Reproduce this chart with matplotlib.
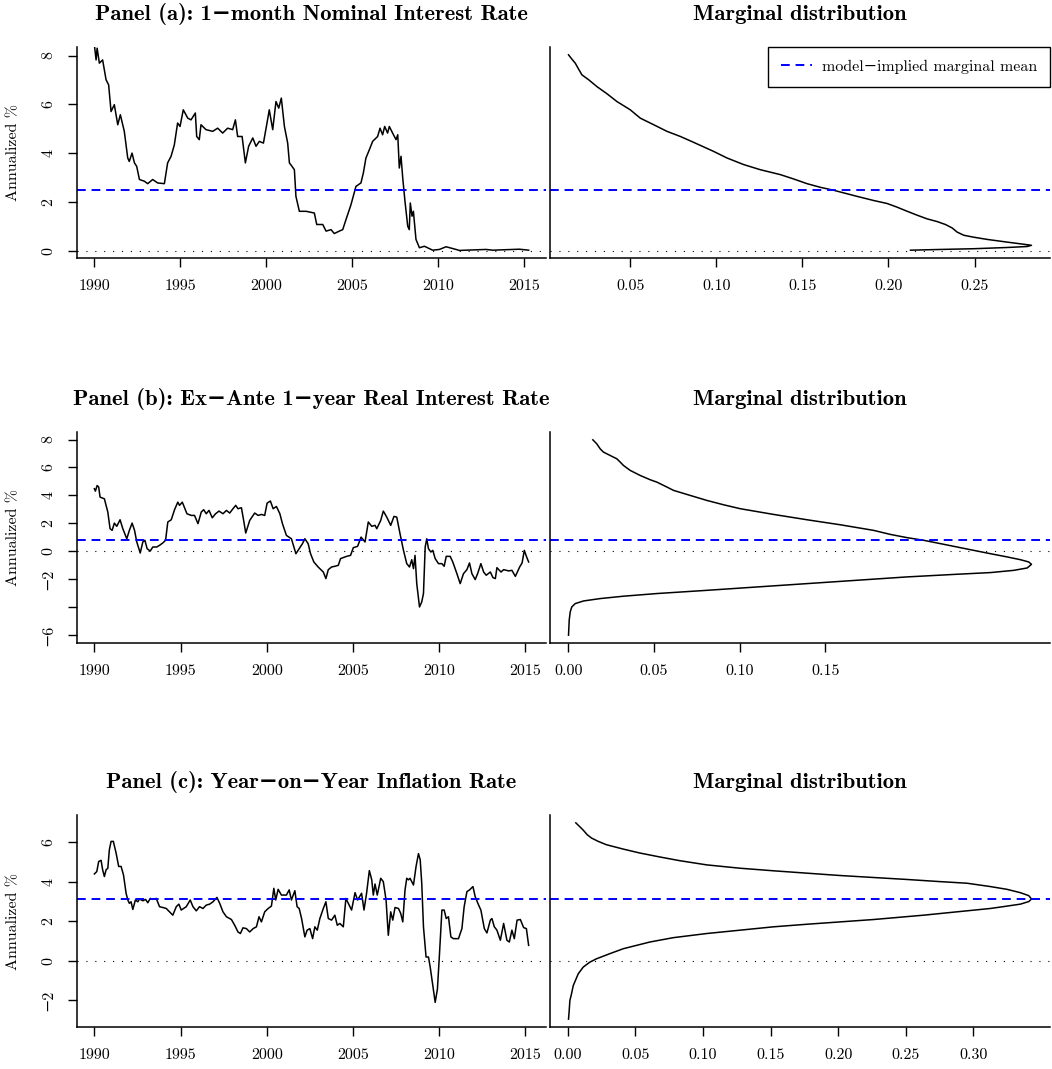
import numpy as np
import matplotlib
matplotlib.use("Agg")
import matplotlib.pyplot as plt

plt.rcParams['font.family'] = ['cmr10', 'DejaVu Serif']
plt.rcParams['mathtext.fontset'] = 'cm'
plt.rcParams['axes.formatter.use_mathtext'] = True

# ---------------- data ----------------
# Panel (a): 1-month nominal interest rate, time as years after 1990
a_t = [0.00,0.10,0.16,0.29,0.48,0.68,0.83,0.97,1.16,1.36,1.51,1.74,1.94,2.03,2.19,2.33,2.46,2.62,2.91,3.10,
       3.39,3.68,4.07,4.26,4.46,4.65,4.84,4.98,5.17,5.43,5.62,5.87,5.95,6.10,6.20,6.49,6.88,7.17,7.46,7.75,
       8.04,8.20,8.33,8.59,8.78,8.97,9.21,9.40,9.59,9.83,10.02,10.17,10.37,10.56,10.72,10.87,11.05,11.24,11.34,11.49,
       11.63,11.72,11.92,12.31,12.79,12.93,13.28,13.47,13.76,13.95,14.24,14.44,14.63,14.92,15.21,15.50,15.64,15.79,15.99,16.18,
       16.47,16.61,16.76,16.88,17.05,17.15,17.34,17.54,17.64,17.73,17.83,17.93,18.06,18.22,18.31,18.37,18.47,18.55,18.70,18.90,
       19.19,19.67,20.06,20.45,21.03,21.22,22.77,23.16,24.71,25.25]
a_v = [8.44,7.82,8.30,7.69,7.82,7.01,6.80,5.71,5.99,5.17,5.58,4.90,3.81,3.67,4.01,3.61,3.47,2.93,2.86,2.76,
       2.93,2.79,2.76,3.61,3.88,4.35,5.24,5.10,5.78,5.44,5.37,5.65,4.69,4.56,5.17,4.97,4.90,5.03,4.83,5.03,
       4.97,5.37,4.69,4.69,3.61,4.29,4.63,4.29,4.49,4.42,5.17,5.78,4.97,6.12,5.85,6.26,5.10,4.42,3.61,3.47,
       3.33,2.24,1.63,1.63,1.56,1.09,1.09,0.82,0.88,0.72,0.82,0.88,1.29,1.90,2.65,2.79,3.20,3.81,4.15,4.49,
       4.69,5.03,4.76,5.10,4.83,5.10,4.83,4.56,4.76,3.40,3.88,2.99,2.04,1.02,0.88,1.97,1.43,1.63,0.48,0.14,
       0.20,0.04,0.07,0.18,0.07,0.03,0.07,0.04,0.08,0.04]
a_mean = 2.52
a_dens_y = [8.03,7.85,7.69,7.44,7.21,7.01,6.73,6.44,6.12,5.95,5.78,5.44,5.17,4.90,4.69,4.45,4.08,3.81,3.54,3.33,
            3.13,2.95,2.76,2.61,2.49,2.24,2.07,1.95,1.80,1.63,1.47,1.32,1.21,1.09,0.95,0.78,0.65,0.57,0.48,0.37,
            0.30,0.24,0.19,0.15,0.10,0.07,0.04]
a_dens_x = [0.0141,0.0161,0.0180,0.0200,0.0219,0.0258,0.0306,0.0364,0.0422,0.0461,0.0500,0.0558,0.0636,0.0713,0.0791,
            0.0868,0.0984,0.1062,0.1159,0.1256,0.1372,0.1450,0.1527,0.1605,0.1682,0.1818,0.1915,0.1992,0.2050,0.2109,
            0.2167,0.2225,0.2283,0.2331,0.2370,0.2399,0.2438,0.2496,0.2574,0.2690,0.2767,0.2831,0.2806,0.2690,0.2496,
            0.2302,0.2128]

# Panel (b): ex-ante 1-year real interest rate
b_t = [0.00,0.06,0.16,0.25,0.33,0.58,0.78,0.91,1.03,1.16,1.30,1.49,1.65,1.88,2.03,2.19,2.33,2.46,2.66,2.81,
       2.93,3.06,3.24,3.39,3.62,3.78,3.97,4.13,4.26,4.46,4.65,4.84,4.94,5.10,5.23,5.37,5.62,5.81,6.01,6.20,
       6.34,6.49,6.65,6.84,7.03,7.23,7.46,7.66,7.85,8.04,8.20,8.33,8.53,8.66,8.78,9.01,9.30,9.50,9.69,9.88,
       10.02,10.21,10.37,10.56,10.76,10.91,11.14,11.43,11.69,11.88,12.07,12.21,12.40,12.54,12.73,12.98,13.28,13.43,13.57,13.76,
       13.95,14.15,14.28,14.63,14.86,15.02,15.27,15.47,15.70,15.89,16.09,16.28,16.38,16.61,16.76,16.96,17.19,17.38,17.54,17.73,
       17.93,18.12,18.28,18.41,18.51,18.60,18.70,18.86,18.99,19.09,19.19,19.28,19.38,19.52,19.63,19.77,19.96,20.16,20.29,20.41,
       20.64,20.79,21.03,21.22,21.41,21.61,21.76,21.90,22.09,22.23,22.42,22.58,22.73,22.97,23.12,23.26,23.35,23.59,23.74,24.03,
       24.22,24.42,24.67,24.81,24.94,25.06,25.19]
b_v = [4.48,4.31,4.71,4.60,3.88,3.76,2.81,1.62,1.50,2.02,1.79,2.26,1.62,0.90,1.50,2.02,1.50,0.67,-0.12,0.67,
       0.79,0.19,0.02,0.31,0.31,0.43,0.60,0.79,2.10,2.26,2.98,3.52,3.29,3.52,3.12,2.69,2.57,2.57,1.98,2.81,
       2.98,2.69,2.93,2.40,2.69,2.88,2.69,2.93,2.74,3.05,3.29,3.05,3.12,2.21,1.31,2.21,2.74,2.57,2.64,2.57,
       3.45,3.60,3.05,3.21,2.69,1.98,1.14,0.90,-0.17,0.19,0.55,0.90,0.55,-0.17,-0.76,-1.12,-1.48,-1.95,-1.31,-1.12,
       -1.07,-1.00,-0.52,-0.36,-0.29,0.26,0.36,1.02,0.67,2.10,1.79,1.86,1.62,2.21,2.88,2.45,1.86,2.50,2.45,1.26,
       0.07,-0.88,-1.12,-0.60,-1.24,-0.29,-2.31,-3.98,-3.62,-3.02,0.31,0.90,0.19,-0.05,0.07,-0.52,-0.88,-0.88,-1.07,-0.36,
       -0.36,-0.76,-1.60,-2.31,-1.60,-1.31,-0.83,-1.60,-2.02,-1.60,-0.88,-1.48,-1.71,-1.48,-1.88,-1.95,-1.17,-1.48,-1.31,-1.40,
       -1.36,-1.79,-1.12,-0.83,0.07,-0.36,-0.76]
b_mean = 0.84
b_dens_y = [7.98,7.69,7.33,7.10,6.86,6.62,6.38,6.14,5.79,5.43,5.12,4.95,4.60,4.36,4.00,3.64,3.33,3.05,2.64,2.26,
            1.90,1.50,1.21,0.98,0.79,0.55,0.31,0.07,-0.17,-0.40,-0.60,-0.76,-0.93,-1.19,-1.36,-1.52,-1.64,-1.83,-2.07,-2.31,
            -2.55,-2.79,-3.02,-3.21,-3.38,-3.55,-3.74,-3.98,-4.33,-4.93,-6.00]
b_dens_x = [0.0144,0.0167,0.0187,0.0206,0.0245,0.0284,0.0304,0.0323,0.0362,0.0420,0.0479,0.0518,0.0576,0.0615,0.0712,
            0.0810,0.0907,0.1004,0.1199,0.1393,0.1588,0.1782,0.1880,0.1977,0.2074,0.2172,0.2269,0.2366,0.2464,0.2561,
            0.2639,0.2687,0.2703,0.2678,0.2600,0.2464,0.2269,0.1977,0.1685,0.1393,0.1101,0.0810,0.0518,0.0323,0.0187,
            0.0090,0.0041,0.0021,0.0012,0.0006,0.0002]

# Panel (c): year-on-year inflation rate
c_t = [0.00,0.14,0.25,0.39,0.48,0.58,0.68,0.78,0.87,0.97,1.10,1.26,1.41,1.55,1.69,1.84,1.94,2.03,2.13,2.23,
       2.38,2.52,2.62,2.81,2.97,3.10,3.24,3.39,3.59,3.78,3.97,4.17,4.36,4.55,4.75,4.90,5.04,5.33,5.56,5.72,
       5.91,6.10,6.30,6.49,6.69,6.88,7.11,7.27,7.46,7.66,7.95,8.14,8.33,8.47,8.62,8.82,9.01,9.21,9.40,9.55,
       9.69,9.88,10.08,10.27,10.41,10.52,10.66,10.85,11.14,11.30,11.43,11.63,11.76,11.88,12.02,12.21,12.34,12.50,12.66,12.79,
       12.93,13.08,13.28,13.43,13.57,13.76,13.95,14.09,14.24,14.44,14.59,14.73,14.92,15.12,15.27,15.50,15.64,15.79,15.95,16.09,
       16.18,16.28,16.41,16.61,16.76,16.92,17.05,17.19,17.31,17.44,17.64,17.77,17.89,18.02,18.12,18.22,18.31,18.51,18.66,18.80,
       18.90,18.99,19.09,19.24,19.38,19.48,19.63,19.77,19.90,20.02,20.16,20.29,20.41,20.54,20.68,20.83,21.12,21.32,21.45,21.61,
       21.76,21.96,22.09,22.29,22.42,22.62,22.77,22.97,23.06,23.20,23.35,23.55,23.74,23.93,24.07,24.22,24.36,24.52,24.71,24.90,
       25.06,25.19]
c_v = [4.40,4.52,5.03,5.09,4.61,4.27,4.61,4.69,5.63,6.05,6.05,5.46,4.78,4.78,4.35,3.42,3.08,2.91,2.99,2.60,
       3.08,2.99,3.13,3.04,3.11,2.94,3.16,3.11,3.16,2.74,2.70,2.65,2.48,2.31,2.74,2.87,2.57,2.74,3.08,2.74,
       2.53,2.74,2.65,2.82,2.87,2.99,3.21,2.91,2.48,2.23,2.09,1.80,1.46,1.38,1.67,1.63,1.46,1.63,1.72,2.23,
       1.97,2.48,2.65,2.77,3.67,3.08,3.62,3.33,3.33,3.59,3.08,3.55,2.74,2.65,2.14,1.21,1.55,1.63,1.12,1.72,
       1.55,2.14,2.65,2.99,2.14,2.06,2.31,1.80,1.89,1.72,3.16,2.91,2.57,3.45,3.08,3.42,2.57,3.42,4.57,4.10,
       3.33,3.89,3.33,4.18,4.01,3.08,1.29,2.48,2.06,2.70,2.65,2.40,1.97,3.59,4.18,4.10,4.18,3.84,4.78,5.43,
       5.12,3.93,1.72,0.19,0.19,-0.32,-1.26,-2.11,-1.43,0.36,2.57,2.57,2.14,2.23,1.21,1.12,1.12,1.63,2.74,3.50,
       3.59,3.76,3.25,2.82,2.57,1.63,1.41,2.06,2.14,1.72,1.55,1.04,1.89,1.04,0.95,1.55,1.12,2.06,2.09,1.68,
       1.63,0.78]
c_mean = 3.13
c_dens_y = [6.99,6.79,6.62,6.39,6.22,6.05,5.88,5.66,5.46,5.26,5.07,4.86,4.69,4.56,4.44,4.32,4.22,4.12,4.01,3.93,
            3.76,3.62,3.45,3.30,3.13,3.00,2.87,2.77,2.65,2.48,2.31,2.09,1.97,1.85,1.72,1.55,1.38,1.17,0.95,0.61,
            0.36,0.10,-0.07,-0.32,-0.66,-1.26,-1.68,-2.02,-2.53,-2.96]
c_dens_x = [0.0059,0.0089,0.0114,0.0143,0.0175,0.0225,0.0286,0.0410,0.0533,0.0681,0.0830,0.1027,0.1274,0.1521,0.1768,
            0.2015,0.2262,0.2509,0.2756,0.2953,0.3126,0.3249,0.3348,0.3410,0.3430,0.3410,0.3348,0.3249,0.3126,0.2879,
            0.2632,0.2262,0.2015,0.1768,0.1521,0.1274,0.1027,0.0780,0.0607,0.0410,0.0311,0.0212,0.0163,0.0114,0.0077,
            0.0040,0.0027,0.0015,0.0010,0.0005]

titles_left = ['Panel (a): 1\u2212month Nominal Interest Rate',
               'Panel (b): Ex\u2212Ante 1\u2212year Real Interest Rate',
               'Panel (c): Year\u2212on\u2212Year Inflation Rate']
title_right = 'Marginal distribution'
year_ticks = [1990, 1995, 2000, 2005, 2010, 2015]
yticks = [[0, 2, 4, 6, 8], [-6, -4, -2, 0, 2, 4, 6, 8], [-2, 0, 2, 4, 6]]
ytick_labels = [['0', '2', '4', '6', '8'],
                ['\u22126', '', '\u22122', '0', '2', '4', '6', '8'],
                ['\u22122', '0', '2', '4', '6']]
dens_ticks = [[0.05, 0.10, 0.15, 0.20, 0.25],
              [0.00, 0.05, 0.10, 0.15],
              [0.00, 0.05, 0.10, 0.15, 0.20, 0.25, 0.30]]
legend_label = 'model\u2212implied marginal mean'

# ---------------- figure ----------------
W, H = 1052, 1069
fig = plt.figure(figsize=(W / 100, H / 100), dpi=100)

rows_px = [(47, 258), (432, 643), (815, 1027)]
left_px = (77, 546)
right_px = (550, 1050)

series = [(a_t, a_v, a_mean, a_dens_x, a_dens_y),
          (b_t, b_v, b_mean, b_dens_x, b_dens_y),
          (c_t, c_v, c_mean, c_dens_x, c_dens_y)]

FS = 11.5
TFS = 16.3
dash_blue = (0, (4.5, 3.0))
dot_black = (0, (1, 7))
TFAM = ['cmb10', 'DejaVu Serif']


def style_axes(ax):
    for s in ['top', 'right']:
        ax.spines[s].set_visible(False)
    for s in ['left', 'bottom']:
        ax.spines[s].set_linewidth(1.1)
    ax.tick_params(direction='out', length=6.5, width=1.0, labelsize=FS, pad=9)


for i, (t, v, mean, dx, dy) in enumerate(series):
    top, bot = rows_px[i]
    yb = 1 - bot / H
    hh = (bot - top) / H
    axl = fig.add_axes([left_px[0] / W, yb, (left_px[1] - left_px[0]) / W, hh])
    axr = fig.add_axes([right_px[0] / W, yb, (right_px[1] - right_px[0]) / W, hh])

    tt = 1990 + np.asarray(t)
    vv = np.asarray(v)
    dxx = np.asarray(dx)
    dyy = np.asarray(dy)

    # y limits: R-style 4% extension of the density grid range
    lo, hi = dyy.min(), dyy.max()
    ext = 0.04 * (hi - lo)
    ylim = (lo - ext, hi + ext)

    # left panel
    axl.plot(tt, vv, color='black', lw=1.1)
    axl.axhline(mean, color='blue', lw=1.4, linestyle=dash_blue)
    axl.axhline(0, color='black', lw=0.8, linestyle=dot_black)
    xr = tt.max() - tt.min()
    axl.set_xlim(tt.min() - 0.04 * xr, tt.max() + 0.04 * xr)
    axl.set_ylim(*ylim)
    style_axes(axl)
    axl.set_xticks(year_ticks)
    axl.set_xticklabels([str(y) for y in year_ticks])
    axl.set_yticks(yticks[i])
    axl.set_yticklabels(ytick_labels[i], rotation=90, va='center')
    axl.set_title(titles_left[i], fontsize=TFS, fontfamily=TFAM,
                  fontweight='bold', pad=19.5)
    fig.text(13 / W, 1 - (top + bot) / 2 / H, 'Annualized %', rotation=90,
             ha='center', va='center', fontsize=FS)

    # right panel
    axr.plot(dxx, dyy, color='black', lw=1.1)
    axr.axhline(mean, color='blue', lw=1.4, linestyle=dash_blue)
    axr.axhline(0, color='black', lw=0.8, linestyle=dot_black)
    xr2 = dxx.max() - dxx.min()
    axr.set_xlim(dxx.min() - 0.04 * xr2, dxx.max() + 0.04 * xr2)
    axr.set_ylim(*ylim)
    style_axes(axr)
    axr.set_yticks([])
    axr.set_xticks(dens_ticks[i])
    axr.set_xticklabels(['%.2f' % x for x in dens_ticks[i]])
    axr.set_title(title_right, fontsize=TFS, fontfamily=TFAM,
                  fontweight='bold', pad=19.5)

    if i == 0:
        h, = axr.plot([], [], color='blue', lw=1.4, linestyle=dash_blue)
        leg = axr.legend([h], [legend_label], loc='upper right', borderaxespad=0,
                         fontsize=FS, handlelength=1.9, handletextpad=0.65,
                         borderpad=0.8, fancybox=False, framealpha=1)
        leg.get_frame().set_edgecolor('black')
        leg.get_frame().set_linewidth(1.0)

fig.savefig('out.png', dpi=100)
